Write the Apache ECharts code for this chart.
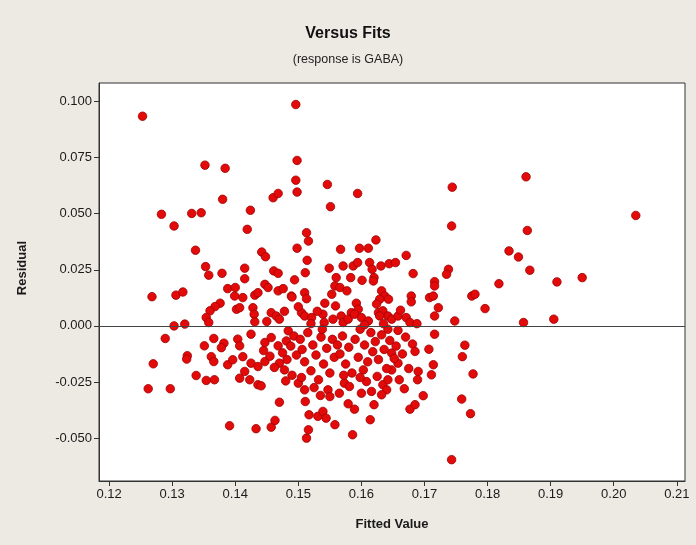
<!DOCTYPE html>
<html>
<head>
<meta charset="utf-8">
<script src="https://cdn.jsdelivr.net/npm/echarts@6/dist/echarts.min.js"></script>
<style>
html,body{margin:0;padding:0;background:#EDEAE4;}
#chart{width:696px;height:545px;}
</style>
</head>
<body>
<div id="chart"></div>
<script>
// ---- DATA: [fitted value, residual] ----
const upperPoints = [
 [0.1253,0.0934],[0.1352,0.0716],[0.1384,0.0702],[0.1380,0.0564],[0.1460,0.0571],[0.1468,0.0590],
 [0.1283,0.0497],[0.1331,0.0501],[0.1346,0.0504],[0.1424,0.0515],[0.1496,0.0986],[0.1498,0.0737],
 [0.1496,0.0649],[0.1498,0.0596],[0.1546,0.0630],[0.1594,0.0590],[0.1551,0.0531],[0.1744,0.0618],
 [0.1861,0.0664],[0.2035,0.0492]
];
const leftPoints = [
 [0.1303,0.0445],[0.1419,0.0430],[0.1337,0.0337],[0.1442,0.0329],[0.1448,0.0308],[0.1353,0.0264],
 [0.1358,0.0226],[0.1379,0.0234],[0.1415,0.0257],[0.1415,0.0210],[0.1461,0.0245],[0.1468,0.0234],
 [0.1388,0.0166],[0.1400,0.0171],[0.1447,0.0185],[0.1452,0.0171],[0.1468,0.0156],[0.1476,0.0166],
 [0.1489,0.0133],[0.1268,0.0130],[0.1306,0.0137],[0.1317,0.0151],[0.1399,0.0133],[0.1412,0.0126],
 [0.1431,0.0137],[0.1436,0.0148],[0.1376,0.0101],[0.1368,0.0086],[0.1360,0.0067],[0.1402,0.0074],
 [0.1407,0.0081],[0.1428,0.0081],[0.1430,0.0052],[0.1431,0.0018],[0.1457,0.0059],[0.1465,0.0044],
 [0.1470,0.0030],[0.1354,0.0037],[0.1358,0.0015],[0.1303,0.0000],[0.1320,0.0008],[0.1289,-0.0056],
 [0.1351,-0.0089],[0.1366,-0.0056],[0.1382,-0.0077],[0.1378,-0.0097],[0.1404,-0.0059],[0.1407,-0.0089],
 [0.1425,-0.0037],[0.1324,-0.0133],[0.1447,-0.0074],[0.1457,-0.0052],[0.1468,-0.0089],[0.1484,-0.0022],
 [0.1481,-0.0067]
];
const midUpperPoints = [
 [0.1743,0.0445],[0.1513,0.0415],[0.1516,0.0378],[0.1498,0.0346],[0.1567,0.0341],[0.1597,0.0346],
 [0.1611,0.0346],[0.1623,0.0383],[0.1671,0.0314],[0.1514,0.0292],[0.1549,0.0257],[0.1571,0.0267],
 [0.1587,0.0267],[0.1594,0.0282],[0.1613,0.0282],[0.1617,0.0252],[0.1631,0.0267],[0.1644,0.0277],
 [0.1654,0.0282],[0.1511,0.0237],[0.1682,0.0233],[0.1738,0.0252],[0.1735,0.0230],[0.1560,0.0215],
 [0.1583,0.0215],[0.1601,0.0203],[0.1620,0.0215],[0.1619,0.0200],[0.1494,0.0205],[0.1716,0.0197],
 [0.1716,0.0178],[0.1558,0.0178],[0.1566,0.0171],[0.1577,0.0156],[0.1553,0.0141],[0.1510,0.0148],
 [0.1513,0.0121],[0.1490,0.0129],[0.1632,0.0156],[0.1637,0.0133],[0.1629,0.0119],[0.1643,0.0119],
 [0.1679,0.0133],[0.1679,0.0107],[0.1708,0.0126],[0.1714,0.0133],[0.1775,0.0133],[0.1780,0.0141],
 [0.1542,0.0101],[0.1559,0.0089],[0.1592,0.0101],[0.1584,0.0059],[0.1595,0.0074],[0.1624,0.0097],
 [0.1627,0.0059],[0.1634,0.0067],[0.1642,0.0044],[0.1722,0.0081],[0.1796,0.0077],[0.1505,0.0059],
 [0.1510,0.0044],[0.1521,0.0037],[0.1539,0.0052],[0.1541,0.0015],[0.1568,0.0044],[0.1571,0.0015],
 [0.1579,0.0030],[0.1589,0.0052],[0.1600,0.0037],[0.1611,0.0022],[0.1629,0.0044],[0.1648,0.0030],
 [0.1658,0.0044],[0.1671,0.0037],[0.1677,0.0015],[0.1716,0.0044],[0.1748,0.0022],[0.1716,-0.0037],
 [0.1764,-0.0086],[0.1707,-0.0104],[0.1681,-0.0081]
];
const rightPoints = [
 [0.1863,0.0425],[0.1834,0.0334],[0.1849,0.0307],[0.1867,0.0248],[0.1818,0.0188],[0.1910,0.0196],
 [0.1950,0.0215],[0.1857,0.0015],[0.1905,0.0030]
];
const lowerPoints = [
 [0.1270,-0.0169],[0.1323,-0.0148],[0.1338,-0.0221],[0.1354,-0.0243],[0.1367,-0.0240],[0.1262,-0.0280],
 [0.1297,-0.0280],[0.1391,-0.0445],[0.1433,-0.0458],[0.1457,-0.0451],[0.1463,-0.0421],[0.1470,-0.0340],
 [0.1407,-0.0233],[0.1423,-0.0240],[0.1436,-0.0262],[0.1441,-0.0267],[0.1388,-0.0173],[0.1396,-0.0151],
 [0.1412,-0.0137],[0.1415,-0.0203],[0.1362,-0.0137],[0.1366,-0.0159],[0.1425,-0.0166],[0.1436,-0.0181],
 [0.1447,-0.0159],[0.1470,-0.0166],[0.1478,-0.0196],
 [0.1743,-0.0596],[0.1586,-0.0485],[0.1513,-0.0500],[0.1516,-0.0463],[0.1614,-0.0418],[0.1558,-0.0440],
 [0.1531,-0.0403],[0.1539,-0.0381],[0.1544,-0.0411],[0.1517,-0.0396],[0.1579,-0.0347],[0.1589,-0.0371],
 [0.1620,-0.0351],[0.1677,-0.0371],[0.1685,-0.0351],[0.1698,-0.0311],[0.1759,-0.0326],[0.1773,-0.0391],
 [0.1777,-0.0214],[0.1760,-0.0137],[0.1714,-0.0173],[0.1711,-0.0218],[0.1690,-0.0203],[0.1689,-0.0240],
 [0.1685,-0.0114],[0.1510,-0.0285],[0.1511,-0.0337],[0.1500,-0.0255],[0.1547,-0.0285],[0.1550,-0.0315],
 [0.1573,-0.0255],[0.1581,-0.0270],[0.1603,-0.0196],[0.1608,-0.0248],[0.1616,-0.0292],[0.1600,-0.0300],
 [0.1634,-0.0262],[0.1642,-0.0240],[0.1640,-0.0285],[0.1632,-0.0307],[0.1648,-0.0196],[0.1658,-0.0166],
 [0.1648,-0.0121]
];
const corePoints = [
 [0.1445,-0.0110],[0.1455,-0.0135],[0.1462,-0.0185],[0.1475,-0.0120],[0.1482,-0.0150],[0.1488,-0.0090],
 [0.1493,-0.0045],[0.1497,-0.0130],[0.1490,-0.0220],[0.1480,-0.0245],
 [0.1503,-0.0060],[0.1506,-0.0105],[0.1510,-0.0160],[0.1515,-0.0030],[0.1520,-0.0200],[0.1523,-0.0085],
 [0.1528,-0.0130],[0.1532,-0.0240],[0.1536,-0.0050],[0.1540,-0.0170],[0.1545,-0.0100],[0.1550,-0.0210],
 [0.1554,-0.0060],[0.1557,-0.0140],[0.1505,-0.0230],[0.1525,-0.0275],[0.1535,-0.0310],[0.1520,0.0010],
 [0.1538,-0.0015],
 [0.1562,-0.0085],[0.1566,-0.0125],[0.1570,-0.0045],[0.1575,-0.0170],[0.1580,-0.0095],[0.1585,-0.0210],
 [0.1590,-0.0060],[0.1595,-0.0140],[0.1598,-0.0230],[0.1605,-0.0085],[0.1610,-0.0160],[0.1615,-0.0030],
 [0.1618,-0.0115],[0.1572,-0.0220],[0.1598,-0.0015],[0.1565,-0.0300],
 [0.1622,-0.0070],[0.1627,-0.0150],[0.1632,-0.0040],[0.1636,-0.0105],[0.1640,-0.0190],[0.1645,-0.0065],
 [0.1652,-0.0145],[0.1655,-0.0090],[0.1660,-0.0240],[0.1665,-0.0125],[0.1670,-0.0050],[0.1675,-0.0190],
 [0.1625,-0.0225],[0.1668,-0.0280],[0.1658,-0.0020],[0.1642,-0.0015],
 [0.1450,0.0020],[0.1478,0.0065],[0.1500,0.0085],[0.1530,0.0065],[0.1555,0.0030],[0.1605,0.0005],
 [0.1635,0.0010],[0.1662,0.0070],[0.1688,0.0010]
];
const xTickValues = [0.12,0.13,0.14,0.15,0.16,0.17,0.18,0.19,0.20,0.21];
const yTickValues = [-0.050,-0.025,0.000,0.025,0.050,0.075,0.100];
const referenceLine = 0;

const allPoints = [].concat(upperPoints, leftPoints, midUpperPoints, rightPoints, lowerPoints, corePoints);

const chart = echarts.init(document.getElementById('chart'), null, {renderer:'canvas'});
const txt = '#1a1a1a';
chart.setOption({
  backgroundColor: '#EDEAE4',
  animation: false,
  title: [
    {text:'Versus Fits', left:'center', top:21,
     textStyle:{fontFamily:'Liberation Sans', fontSize:16, fontWeight:'bold', color:'#111'}},
    {text:'(response is GABA)', left:'center', top:48,
     textStyle:{fontFamily:'Liberation Sans', fontSize:12.5, fontWeight:'normal', color:'#222'}}
  ],
  graphic: [{
    type:'text', left:16, top:241, rotation:Math.PI/2,
    style:{text:'Residual', font:'bold 13px "Liberation Sans"', fill:txt}
  }],
  grid: {left:99, right:11, top:83, bottom:64, show:true, backgroundColor:'#ffffff',
         borderColor:'#333', borderWidth:1},
  xAxis: {
    type:'value', min:0.1184, max:0.2113,
    name:'Fitted Value', nameLocation:'middle', nameGap:37,
    nameTextStyle:{fontFamily:'Liberation Sans', fontSize:13, fontWeight:'bold', color:txt},
    axisLine:{onZero:false, lineStyle:{color:'#333', width:1}},
    axisTick:{show:true, length:5, inside:false, customValues:xTickValues, lineStyle:{color:'#333'}},
    axisLabel:{customValues:xTickValues, fontFamily:'Liberation Sans', fontSize:13, color:txt, margin:7,
      formatter:v=>v.toFixed(2)},
    splitLine:{show:false}
  },
  yAxis: {
    type:'value', min:-0.0691, max:0.1082,
    axisLine:{onZero:false, lineStyle:{color:'#333', width:1}},
    axisTick:{show:true, length:5, inside:false, customValues:yTickValues, lineStyle:{color:'#333'}},
    axisLabel:{customValues:yTickValues, fontFamily:'Liberation Sans', fontSize:13, color:txt, margin:7,
      formatter:v=>v.toFixed(3)},
    splitLine:{show:false}
  },
  series: [{
    type:'scatter',
    data: allPoints,
    symbol:'circle',
    symbolSize:8.5,
    itemStyle:{color:'#E30A0A', borderColor:'#9E0000', borderWidth:0.8, opacity:1},
    markLine:{
      silent:true, symbol:['none','none'], label:{show:false},
      lineStyle:{color:'#444', width:1, type:'solid'},
      data:[{yAxis:referenceLine}]
    }
  }]
});
</script>
</body>
</html>
